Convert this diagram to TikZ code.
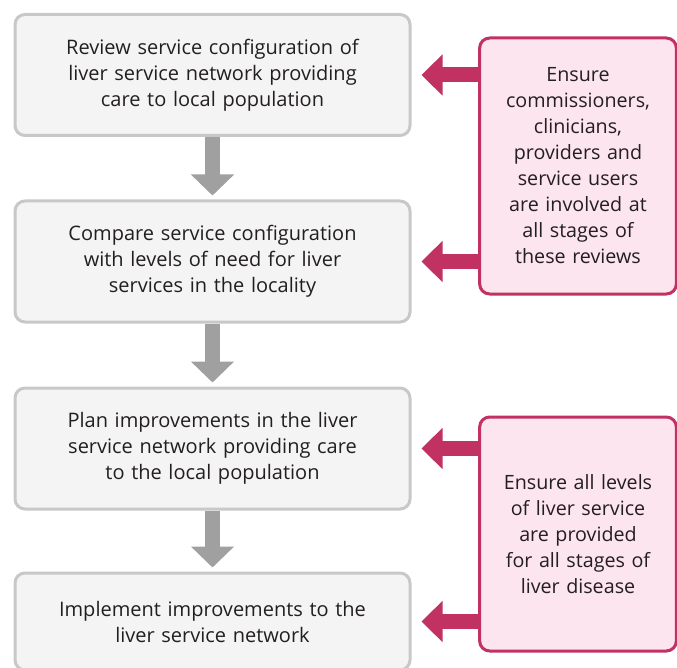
\documentclass[tikz,border=0pt]{standalone}
\usepackage{fontspec}
\setmainfont{Open Sans}
\usetikzlibrary{arrows.meta}
\definecolor{boxgray}{RGB}{200,200,200}
\definecolor{boxfill}{RGB}{244,244,244}
\definecolor{arrowgray}{RGB}{160,160,160}
\definecolor{notered}{RGB}{193,50,99}
\definecolor{notefill}{RGB}{252,229,238}
\definecolor{textgray}{RGB}{35,31,32}

\begin{document}
\begin{tikzpicture}[x = 1pt, y = -1pt,
        stagebox/.style = {draw = boxgray, fill = boxfill, line width = 3pt, rounded corners = 10pt,
            minimum width = 395pt, minimum height = 121pt, text width = 380pt, align = center,
            text = textgray, font = \fontsize{20}{26}\selectfont},
        notebox/.style = {draw = notered, fill = notefill, line width = 3pt, rounded corners = 10pt,
            minimum width = 196pt, text width = 190pt, align = center,
            text = textgray, font = \fontsize{19.7}{26}\selectfont},
        downlink/.style = {draw = arrowgray, line width = 15pt, -{Triangle[width = 42pt, length = 21pt]}, shorten >= 4pt},
        notelink/.style = {draw = notered, line width = 15pt, -{Triangle[width = 40pt, length = 21pt]}, shorten >= 10pt}]

            \useasboundingbox (0,0) rectangle (677,668);

                % Stages:
                \node[stagebox] (review) at (212.5,75) {Review service configuration of\\ liver service network providing\\ care to local population};
                \node[stagebox] (compare) at (212.5,261.5) {Compare service configuration\\ with levels of need for liver\\ services in the locality};
                \node[stagebox] (plan) at (212.5,448.5) {Plan improvements in the liver\\ service network providing care\\ to the local population};
                \node[stagebox, minimum height = 97pt] (implement) at (212.5,621.5) {Implement improvements to the\\ liver service network};

                % Notes:
                \node[notebox, minimum height = 256pt] (involve) at (578,166) {Ensure\\ commissioners,\\ clinicians,\\ providers and\\ service users\\ are involved at\\ all stages of\\ these reviews};
                \node[notebox, minimum height = 234pt] (levels) at (578,534) {Ensure all levels\\ of liver service\\ are provided\\ for all stages of\\ liver disease};

                % Arrows:
                \draw[downlink] (review) -- (compare);
                \draw[downlink] (compare) -- (plan);
                \draw[downlink] (plan) -- (implement);

                \draw[notelink] (review.east -| involve.west) -- (review.east);
                \draw[notelink] (compare.east -| involve.west) -- (compare.east);
                \draw[notelink] (plan.east -| levels.west) -- (plan.east);
                \draw[notelink] (implement.east -| levels.west) -- (implement.east);
            \end{tikzpicture}
\end{document}
